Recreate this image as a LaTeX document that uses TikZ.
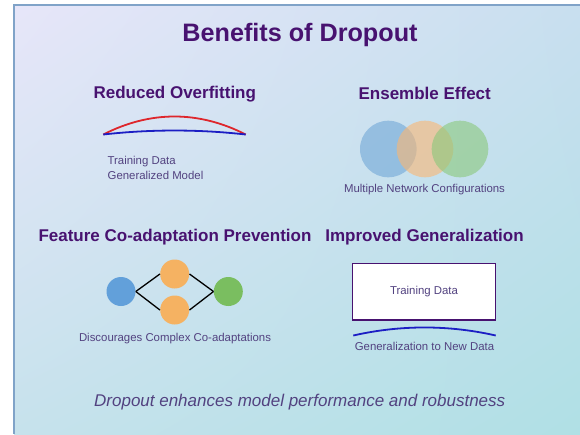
\documentclass[tikz,border=0pt]{standalone}
\usepackage{fontspec}
\setmainfont{Liberation Sans}
\usetikzlibrary{shadings}

\definecolor{headpurple}{RGB}{72,18,112}
\definecolor{labelpurple}{RGB}{82,66,128}
\definecolor{framecol}{RGB}{128,163,200}
\definecolor{bgtopleft}{RGB}{231,230,249}
\definecolor{bgtopright}{RGB}{200,223,239}
\definecolor{bgbotleft}{RGB}{198,226,236}
\definecolor{bgbotright}{RGB}{176,224,229}
\definecolor{ensblue}{RGB}{113,167,215}
\definecolor{ensorange}{RGB}{250,183,115}
\definecolor{ensgreen}{RGB}{138,200,123}
\definecolor{netblue}{RGB}{98,160,218}
\definecolor{netorange}{RGB}{245,178,98}
\definecolor{netgreen}{RGB}{122,190,96}
\definecolor{overfitred}{RGB}{222,38,44}
\definecolor{modelblue}{RGB}{28,30,196}

\begin{document}
\begin{tikzpicture}
    [x=1pt, y=-1pt, semithick,
     heading/.style={anchor=base, text=headpurple, font=\fontsize{17}{20}\selectfont\bfseries},
     caption/.style={anchor=base, text=labelpurple, font=\fontsize{11.4}{13}\selectfont},
     ring/.style={shape=circle, minimum size=56.6pt, inner sep=0pt, fill opacity=0.6},
     unit/.style={shape=circle, minimum size=29pt, inner sep=0pt},
     fitline/.style={line width=1.8pt}]
    \useasboundingbox (0,0) rectangle (580,434);
    \shade[upper left=bgtopleft, upper right=bgtopright, lower left=bgbotleft, lower right=bgbotright]
        (14,5) rectangle (580,434);
    \draw[framecol, line width=1.6pt] (14,434) -- (14,5) -- (580,5);

    \node[anchor=base, text=headpurple, font=\fontsize{25.2}{28}\selectfont\bfseries] (title) at (300,41.7) {Benefits of Dropout};

    % overfitting curves
    \node[heading] (hOver) at (174.8,98.5) {Reduced Overfitting};
    \coordinate (fitL) at (103.3,134.5);
    \coordinate (fitR) at (245.7,134.5);
    \draw[fitline, overfitred] (fitL) .. controls +(47,-24) and +(-47,-24) .. (fitR);
    \draw[fitline, modelblue] (fitL) .. controls +(47,-5.3) and +(-47,-5.3) .. (fitR);
    \node[caption, anchor=base west] (lblTrain) at (104,164) {Training Data};
    \node[caption, anchor=base west] (lblModel) at (104,179) {Generalized Model};

    % ensemble
    \node[heading] (hEns) at (424.7,99) {Ensemble Effect};
    \node[ring, fill=ensblue] (cfgA) at (388.3,149) {};
    \node[ring, fill=ensorange] (cfgB) at (425,149) {};
    \node[ring, fill=ensgreen] (cfgC) at (460,149) {};
    \node[caption] (lblCfg) at (424.5,192.5) {Multiple Network Configurations};

    % co-adaptation network
    \node[heading] (hFeat) at (175,241) {Feature Co-adaptation Prevention};
    \node[unit, fill=netblue] (inp) at (121,291.5) {};
    \node[unit, fill=netorange] (hidA) at (174.7,274) {};
    \node[unit, fill=netorange] (hidB) at (174.7,310) {};
    \node[unit, fill=netgreen] (outp) at (228.3,291.5) {};
    \path [line width=1.3pt] (inp.east) edge (hidA.west);
    \path [line width=1.3pt] (inp.east) edge (hidB.west);
    \path [line width=1.3pt] (hidA.east) edge (outp.west);
    \path [line width=1.3pt] (hidB.east) edge (outp.west);
    \node[caption] (lblCoad) at (175,341.7) {Discourages Complex Co-adaptations};

    % generalization
    \node[heading] (hGen) at (424.5,241) {Improved Generalization};
    \node[draw=headpurple, line width=1.3pt, fill=white, minimum width=143.3pt, minimum height=56.7pt,
          inner sep=0pt, text=labelpurple, font=\fontsize{11.4}{13}\selectfont] (trainbox) at (424,291.7) {Training Data};
    \coordinate (genL) at (353.3,335.5);
    \coordinate (genR) at (495.7,335.5);
    \draw[fitline, modelblue] (genL) .. controls +(47,-10.7) and +(-47,-10.7) .. (genR);
    \node[caption] (lblNew) at (424.5,350.7) {Generalization to New Data};

    \node[anchor=base, text=labelpurple, font=\fontsize{17}{20}\selectfont\itshape] (summary) at (299.7,406.7)
        {Dropout enhances model performance and robustness};
\end{tikzpicture}
\end{document}
